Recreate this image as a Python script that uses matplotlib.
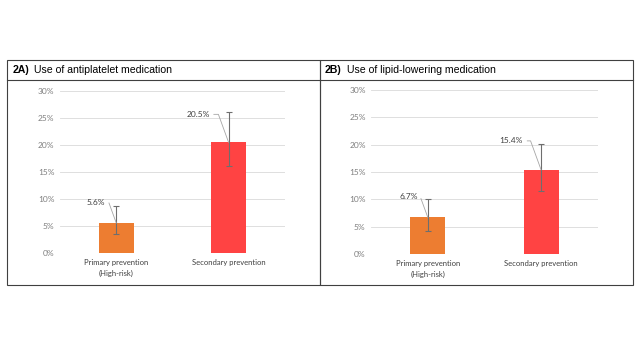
import matplotlib.pyplot as plt
from matplotlib.patches import Rectangle
from matplotlib.lines import Line2D

categories = ["Primary prevention\n(High-risk)", "Secondary prevention"]
bar_colors = ["#ED7D31", "#FF4343"]

# panel A: antiplatelet
anti_vals = [5.6, 20.5]
anti_lo = [3.5, 16.1]
anti_hi = [8.8, 26.2]

# panel B: lipid-lowering
lipid_vals = [6.7, 15.4]
lipid_lo = [4.3, 11.6]
lipid_hi = [10.0, 20.1]

yticks = [0, 5, 10, 15, 20, 25, 30]

fig = plt.figure(figsize=(6.4, 3.6), dpi=100)
fig.patch.set_facecolor("white")

# panel frames (figure coords)
for x0 in [0.011, 0.5]:
    fig.add_artist(Rectangle((x0, 0.208), 0.489, 0.625, transform=fig.transFigure,
                             fill=False, edgecolor="#404040", lw=0.8))
    fig.add_artist(Line2D([x0, x0 + 0.489], [0.778, 0.778], transform=fig.transFigure,
                          color="#404040", lw=0.8))


def panel(rect, tag, title, vals, lo, hi, label_pos, title_x):
    ax = fig.add_axes(rect)
    x = [0, 1]
    err = [[v - l for v, l in zip(vals, lo)], [h - v for v, h in zip(vals, hi)]]
    ax.bar(x, vals, width=0.31, color=bar_colors, zorder=2)
    ax.errorbar(x, vals, yerr=err, fmt="none", ecolor="#6E6E6E", elinewidth=0.8,
                capsize=2.2, capthick=0.8, zorder=3)
    ax.set_xlim(-0.5, 1.5)
    ax.set_ylim(0, 30)
    ax.set_yticks(yticks)
    ax.set_yticklabels([f"{t}%" for t in yticks], fontsize=6, color="#7F7F7F",
                       family="Lato")
    ax.set_xticks(x)
    ax.set_xticklabels(categories, fontsize=5.5, color="#404040", family="Lato",
                       linespacing=1.7)
    ax.tick_params(length=0, pad=4)
    ax.grid(axis="y", color="#D9D9D9", lw=0.6, zorder=0)
    for s in ax.spines.values():
        s.set_visible(False)
    for xi, v, (tx, ty) in zip(x, vals, label_pos):
        ax.annotate(f"{v}%", xy=(xi, v), xytext=(tx, ty), ha="right", va="center",
                    fontsize=6, color="#404040", family="Lato",
                    arrowprops=dict(arrowstyle="-", color="#A6A6A6", lw=0.6,
                                    shrinkA=1, shrinkB=0, relpos=(1, 0.5),
                                    connectionstyle="angle,angleA=0,angleB=110,rad=0"))
    fig.text(title_x, 0.806, tag, fontsize=7.6, fontweight="bold", va="center",
             family="Liberation Sans")
    fig.text(title_x + 0.034, 0.806, title, fontsize=7.6, va="center",
             family="Liberation Sans")
    return ax


panel([0.094, 0.296, 0.351, 0.451], "2A)", "Use of antiplatelet medication",
      anti_vals, anti_lo, anti_hi, [(-0.1, 9.5), (0.83, 25.7)], 0.019)
panel([0.580, 0.294, 0.354, 0.456], "2B)", "Use of lipid-lowering medication",
      lipid_vals, lipid_lo, lipid_hi, [(-0.09, 10.5), (0.84, 20.7)], 0.508)

fig.savefig("out.png", dpi=100)
